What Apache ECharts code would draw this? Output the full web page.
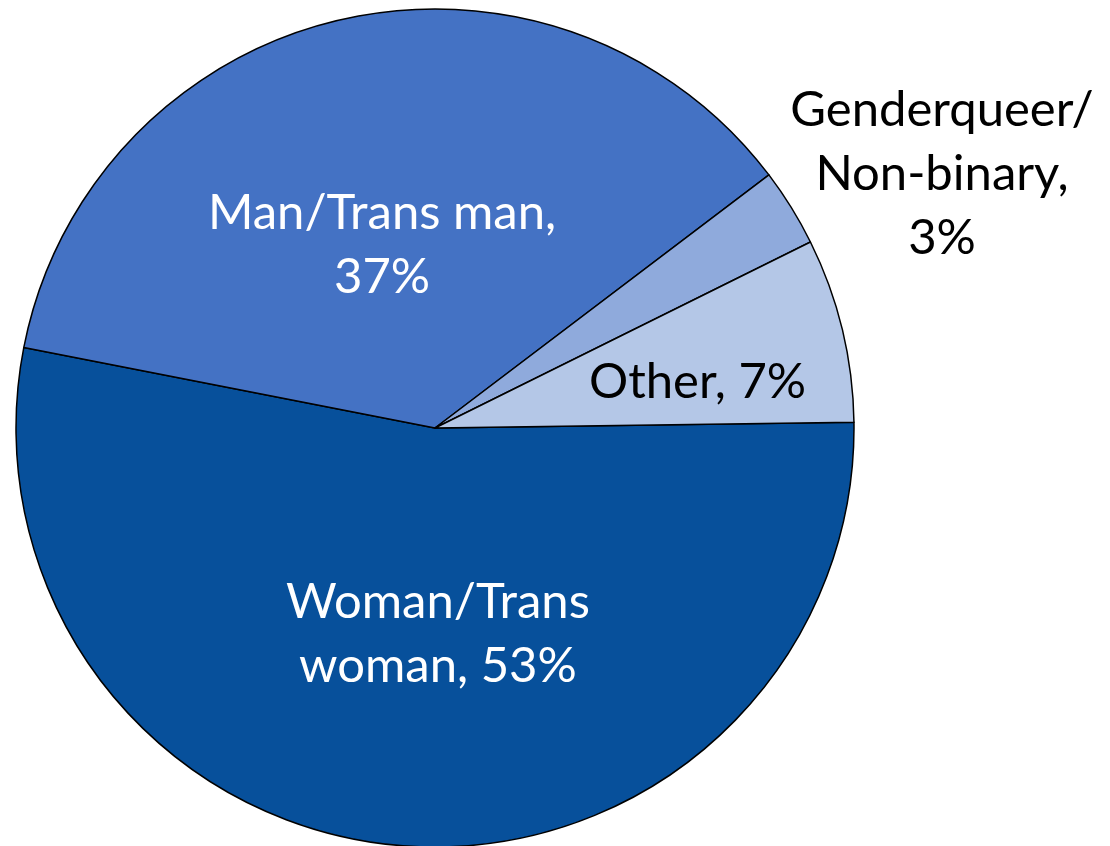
<!DOCTYPE html>
<html>
<head>
<meta charset="utf-8">
<script src="https://cdn.jsdelivr.net/npm/echarts@6/dist/echarts.min.js"></script>
<style>
html,body{margin:0;padding:0;background:#fff;}
#chart{width:1110px;height:846px;}
</style>
</head>
<body>
<div id="chart"></div>
<script>
// Data
const categories = ['Woman/Trans woman', 'Man/Trans man', 'Genderqueer/Non-binary', 'Other'];
const values = [53.3, 36.6, 3.0, 7.1];
const labelTexts = ['Woman/Trans\nwoman, 53%', 'Man/Trans man,\n37%', 'Genderqueer/\nNon-binary,\n3%', 'Other, 7%'];
const colors = ['#07509B', '#4472C4', '#8FAADC', '#B4C7E7'];
const labelColors = ['#ffffff', '#ffffff', '#000000', '#000000'];
// label nudges (dx, dy) relative to the library's default label placement
const labelShift = [[22, -5], [-5, 24], [103, -25], [56, 4]];

const chart = echarts.init(document.getElementById('chart'));
const data = categories.map((c, i) => ({
  name: c,
  value: values[i],
  itemStyle: { color: colors[i] },
  label: {
    color: labelColors[i],
    position: i === 2 ? 'outside' : 'inside'
  },
  labelLine: { show: false }
}));

chart.setOption({
  animation: false,
  series: [{
    type: 'pie',
    center: [435, 428],
    radius: [0, 419],
    startAngle: 0.8,
    clockwise: true,
    avoidLabelOverlap: false,
    itemStyle: { borderColor: '#000', borderWidth: 1.5 },
    label: {
      show: true,
      fontFamily: 'Lato',
      fontSize: 49,
      lineHeight: 64,
      align: 'center',
      formatter: p => labelTexts[p.dataIndex]
    },
    labelLine: { show: false },
    labelLayout: function (p) {
      const i = p.dataIndex;
      const out = { dx: labelShift[i][0], dy: labelShift[i][1] };
      if (i === 2) {
        out.align = 'center';
        out.verticalAlign = 'middle';
      }
      return out;
    },
    data: data
  }]
});
</script>
</body>
</html>
